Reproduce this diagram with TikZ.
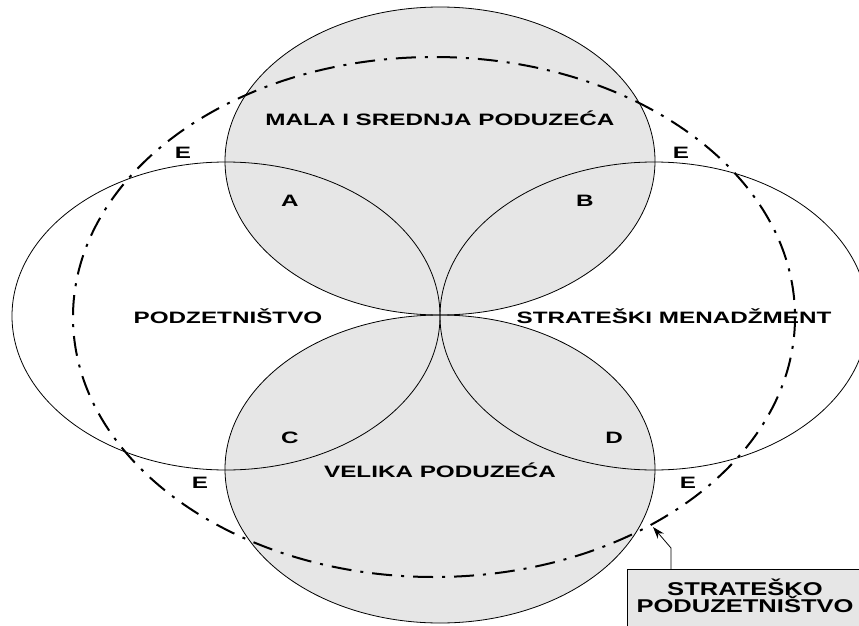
\documentclass[tikz,border=0pt]{standalone}
\usepackage{fontspec}
\setmainfont{Liberation Sans}
\newfontfamily\setfont[FakeStretch=1.47]{Liberation Sans}
\newfontfamily\boxfont[FakeStretch=1.38]{Liberation Sans}
\usetikzlibrary{arrows.meta}
\definecolor{setgrey}{HTML}{E6E6E6}
\tikzset{
  setname/.style={font=\setfont\bfseries\fontsize{16.5}{18}\selectfont, anchor=base, inner sep=0pt},
  boxname/.style={font=\boxfont\bfseries\fontsize{18.5}{18}\selectfont, anchor=base, inner sep=0pt},
  setline/.style={line width=0.8pt},
  dashdotline/.style={line width=2pt, dash pattern=on 20pt off 9pt on 3pt off 9pt},
}
\begin{document}
\begin{tikzpicture}[x=1pt, y=-1pt]
\useasboundingbox (0,0) rectangle (859,626);
\clip (0,0) rectangle (859,626);
% shaded sets
\fill[setgrey] (440,161) ellipse (215 and 154);
\fill[setgrey] (440,469) ellipse (215 and 154);
% outlines
\draw[setline] (226,316) ellipse (214 and 154);
\draw[setline] (654,316) ellipse (214 and 154);
\draw[setline] (440,161) ellipse (215 and 154);
\draw[setline] (440,469) ellipse (215 and 154);
\draw[dashdotline] (434,317) ellipse (361 and 260);
% labels
\node[setname] (msp) at (440,125) {MALA I SREDNJA PODUZEĆA};
\node[setname] (vp) at (440,477) {VELIKA PODUZEĆA};
\node[setname] (pod) at (228,323) {PODZETNIŠTVO};
\node[setname] (sm) at (674,323) {STRATEŠKI MENADŽMENT};
\node[setname] (a) at (290,206) {A};
\node[setname] (b) at (585,206) {B};
\node[setname] (c) at (290,443) {C};
\node[setname] (d) at (614,443) {D};
\node[setname] (e1) at (183,158) {E};
\node[setname] (e2) at (681,158) {E};
\node[setname] (e3) at (200,488) {E};
\node[setname] (e4) at (688,488) {E};
% box
\node[draw, fill=setgrey, setline, anchor=north west, minimum width=260pt, minimum height=80pt, inner sep=0pt] (box) at (627,569) {};
\node[boxname] (boxtop) at (745,595) {STRATEŠKO};
\node[boxname] (boxbottom) at (745,612) {PODUZETNIŠTVO};
\coordinate (tip) at (653,527);
\draw[setline, -{Stealth[length=12pt, width=8pt]}] ([xshift=44pt]box.north west) -- ++(0,-21) -- (tip);
\end{tikzpicture}
\end{document}
